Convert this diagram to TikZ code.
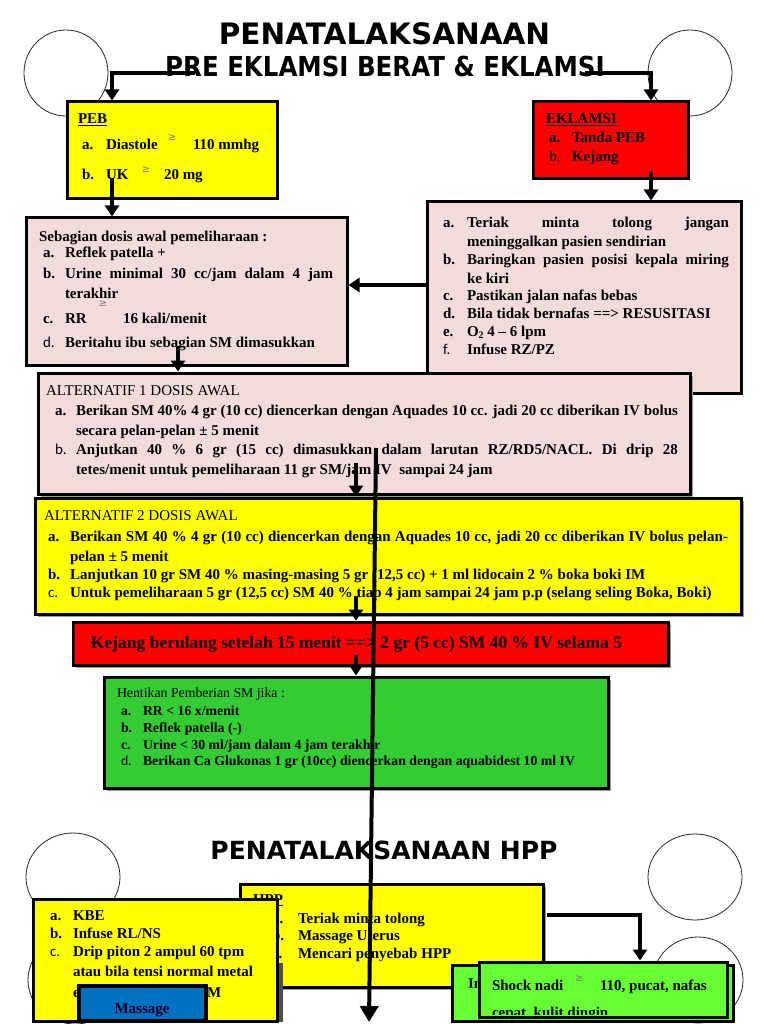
\documentclass[tikz,border=0pt]{standalone}
\usepackage{fontspec}
\setmainfont{Liberation Serif}
\newfontfamily\dvs{DejaVu Sans}
\newfontfamily\dvsc{DejaVu Sans}[FakeStretch=0.89]
\newfontfamily\lblfont{Carlito}
\usetikzlibrary{arrows.meta,fit,shapes.geometric,shadows}
\definecolor{pinkbg}{HTML}{F2DCDB}
\definecolor{ylw}{HTML}{FFFF00}
\definecolor{rd}{HTML}{FF0000}
\definecolor{grnA}{HTML}{33CC33}
\definecolor{grnB}{HTML}{66FF33}
\definecolor{blu}{HTML}{0070C0}
\newcommand\fsz[1]{\fontsize{#1}{#1}\selectfont}
\newcommand\bodyf{\fsz{15}\bfseries}
\newcommand\tline[4]{\node[tl] (#1) at (#2,#3) {#4};}
\newcommand\gsym[3]{\node[gs] (#1) at (#2,#3) {≥};}
\newcommand\sfl[1]{{\lblfont\mdseries #1}}
\tikzset{
  tl/.style={anchor=base west, inner sep=0pt, outer sep=0pt, font=\bodyf},
  gs/.style={inner sep=0pt, font=\dvs\fsz{10}, text=black!50},
  box/.style={draw=black, line width=3pt, inner sep=0pt},
  shad/.style={drop shadow={shadow xshift=3pt, shadow yshift=-3pt, fill=black!40, opacity=1}},
  arr/.style={line width=4.5pt, -{Triangle[length=11pt,width=14pt]}},
  bigarr/.style={line width=4pt, -{Triangle[length=16pt,width=18pt]}},
  circ/.style={draw=black!85, line width=0.8pt, ellipse, inner sep=0pt},
}
\begin{document}
\begin{tikzpicture}[x=1pt,y=-1pt]
\useasboundingbox (0,0) rectangle (768,1024);
\fill[white] (0,0) rectangle (768,1024);
% circles top
\node[circ, minimum width=84pt, minimum height=86pt] (c1) at (66,73) {};
\node[circ, minimum width=84pt, minimum height=86pt] (c2) at (690,73) {};
% titles
\node[anchor=base, inner sep=0pt, font=\dvs\bfseries\fsz{29.5}] (title) at (384.5,45) {PENATALAKSANAAN};
\node[anchor=base, inner sep=0pt, font=\dvsc\bfseries\fsz{27.5}] (subtitle) at (385,77) {PRE EKLAMSI BERAT \& EKLAMSI};
% PEB
\node[box, fill=ylw, fit={(67,102) (277,199)}] (peb) {};
\tline{pebT}{78}{124}{\underline{PEB}}
\tline{pebA}{82}{150}{a.}
\tline{pebA1}{106}{150}{Diastole}
\gsym{pebAg}{172}{138}
\tline{pebA2}{193}{150}{110 mmhg}
\tline{pebB}{82}{180}{b.}
\tline{pebB1}{106}{180}{UK}
\gsym{pebBg}{146}{170}
\tline{pebB2}{164}{180}{20 mg}
% EKLAMSI
\node[box, fill=rd, fit={(533,102) (688,179)}] (ekl) {};
\tline{eklT}{546}{124}{\underline{EKLAMSI}}
\tline{eklA}{549}{143}{a.}
\tline{eklA1}{572}{143}{Tanda PEB}
\tline{eklB}{549}{162}{\sfl{b.}}
\tline{eklB1}{572}{162}{Kejang}
% pink 2
\node[box, fill=pinkbg, fit={(427,202) (741,393)}] (pk2) {};
\tline{p2a}{443}{227}{a.}
\tline{p2a1}{467}{227}{\makebox[262pt][s]{Teriak minta tolong jangan}}
\tline{p2a2}{467}{247}{meninggalkan pasien sendirian}
\tline{p2b}{443}{264}{b.}
\tline{p2b1}{467}{264}{\makebox[262pt][s]{Baringkan pasien posisi kepala miring}}
\tline{p2b2}{467}{283}{ke kiri}
\tline{p2c}{443}{300}{c.}
\tline{p2c1}{467}{300}{Pastikan jalan nafas bebas}
\tline{p2d}{443}{318}{d.}
\tline{p2d1}{467}{318}{Bila tidak bernafas ==> RESUSITASI}
\tline{p2e}{443}{336}{e.}
\tline{p2e1}{467}{336}{O\raisebox{-2pt}{\fsz{10}2} 4 – 6 lpm}
\tline{p2f}{443}{354}{\sfl{f.}}
\tline{p2f1}{467}{354}{Infuse RZ/PZ}
% pink 1
\node[box, fill=pinkbg, fit={(26,218) (347,365)}] (pk1) {};
\tline{p1t}{39}{241}{Sebagian dosis awal pemeliharaan :}
\tline{p1a}{43}{258}{a.}
\tline{p1a1}{65}{258}{Reflek patella +}
\tline{p1b}{43}{278}{b.}
\tline{p1b1}{65}{278}{\makebox[268pt][s]{Urine minimal 30 cc/jam dalam 4 jam}}
\tline{p1b2}{65}{298}{terakhir}
\tline{p1c}{43}{323}{c.}
\tline{p1c1}{65}{323}{RR}
\gsym{p1cg}{103}{304}
\tline{p1c2}{123}{323}{16 kali/menit}
\tline{p1d}{43}{347}{\sfl{d.}}
\tline{p1d1}{65}{347}{Beritahu ibu sebagian SM dimasukkan}
% alternatif 1
\node[box, shad, fill=pinkbg, fit={(38,373) (690,494)}] (alt1) {};
\tline{a1t}{46}{395}{\mdseries ALTERNATIF 1 DOSIS AWAL}
\tline{a1a}{55}{415}{a.}
\tline{a1a1}{76}{415}{\makebox[602pt][s]{Berikan SM 40\% 4 gr (10 cc) diencerkan dengan Aquades 10 cc. jadi 20 cc diberikan IV bolus}}
\tline{a1a2}{76}{435}{secara pelan-pelan ± 5 menit}
\tline{a1b}{55}{454}{\sfl{b.}}
\tline{a1b1}{76}{454}{\makebox[602pt][s]{Anjutkan 40 \% 6 gr (15 cc) dimasukkan dalam larutan RZ/RD5/NACL. Di drip 28}}
\tline{a1b2}{76}{474}{tetes/menit untuk pemeliharaan 11 gr SM/jam IV\ \ sampai 24 jam}
% alternatif 2
\node[box, shad, fill=ylw, fit={(35,498) (741,614)}] (alt2) {};
\tline{a2t}{44}{520}{\mdseries ALTERNATIF 2 DOSIS AWAL}
\tline{a2a}{48}{541}{a.}
\tline{a2a1}{70}{541}{\makebox[658pt][s]{Berikan SM 40 \% 4 gr (10 cc) diencerkan dengan Aquades 10 cc, jadi 20 cc diberikan IV bolus pelan-}}
\tline{a2a2}{70}{561}{pelan ± 5 menit}
\tline{a2b}{48}{579}{b.}
\tline{a2b1}{70}{579}{Lanjutkan 10 gr SM 40 \% masing-masing 5 gr (12,5 cc) + 1 ml lidocain 2 \% boka boki IM}
\tline{a2c}{48}{597}{\sfl{c.}}
\tline{a2c1}{70}{597}{Untuk pemeliharaan 5 gr (12,5 cc) SM 40 \% tiap 4 jam sampai 24 jam p.p (selang seling Boka, Boki)}
% red
\node[box, shad, fill=rd, fit={(73,622) (668,665)}] (red) {};
\node[anchor=base, inner sep=0pt, font=\fsz{17.5}\bfseries] (redT) at (356.5,648) {Kejang berulang setelah 15 menit ==> 2 gr (5 cc) SM 40 \% IV selama 5};
% green
\node[box, shad, fill=grnA, fit={(104,677) (608,788)}] (grn) {};
\begin{scope}[tl/.style={anchor=base west, inner sep=0pt, outer sep=0pt, font=\fsz{13.8}\bfseries}]
\tline{gt}{117}{697}{\mdseries Hentikan Pemberian SM jika :}
\tline{ga}{121}{715}{a.}
\tline{ga1}{143}{715}{RR < 16 x/menit}
\tline{gb}{121}{732}{b.}
\tline{gb1}{143}{732}{Reflek patella (-)}
\tline{gc}{121}{749}{c.}
\tline{gc1}{143}{749}{Urine < 30 ml/jam dalam 4 jam terakhir}
\tline{gd}{121}{765}{\sfl{d.}}
\tline{gd1}{143}{765}{Berikan Ca Glukonas 1 gr (10cc) diencerkan dengan aquabidest 10 ml IV}
\end{scope}
% HPP title and circles
\node[anchor=base, inner sep=0pt, font=\dvs\bfseries\fsz{25}] (hppTitle) at (384,859) {PENATALAKSANAAN HPP};
\node[circ, minimum width=94pt, minimum height=88pt] (c3) at (73,877) {};
\node[circ, minimum width=94pt, minimum height=88pt] (c4) at (75,980) {};
\node[circ, minimum width=94pt, minimum height=86pt] (c5) at (695,877) {};
\node[circ, minimum width=90pt, minimum height=86pt] (c6) at (698,980) {};
% HPP box
\node[box, shad, fill=ylw, fit={(240,884) (543,987)}] (hpp) {};
\begin{scope}
\clip (245,888) rectangle (300,900);
\tline{hppT}{253}{904}{HPP}
\end{scope}
\draw[line width=0.8pt] (253,905.5) -- (283,905.5);
\tline{ha}{272}{923}{a.}
\tline{ha1}{298}{923}{Teriak minta tolong}
\tline{hb}{272}{940}{b.}
\tline{hb1}{298}{940}{Massage Uterus}
\tline{hc}{272}{958}{c.}
\tline{hc1}{298}{958}{Mencari penyebab HPP}
% left yellow box
\fill[black!70] (277,963) rectangle (283,1022);
\node[box, fill=ylw, fit={(33,899) (277,1021)}] (ly) {};
\tline{la}{50}{920}{a.}
\tline{la1}{73}{920}{KBE}
\tline{lb}{50}{938}{b.}
\tline{lb1}{73}{938}{Infuse RL/NS}
\tline{lc}{50}{956}{\sfl{c.}}
\tline{lc1}{73}{956}{Drip piton 2 ampul 60 tpm}
\tline{lc2}{73}{976}{atau bila tensi normal metal}
\tline{le1}{73}{997}{e}
\tline{le2}{207}{997}{M}
% Massage
\node[box, line width=4pt, fill=blu, fit={(79,986) (206,1021)}] (mas) {};
\node[anchor=base, inner sep=0pt, font=\bodyf, text=black!85!blue] (masT) at (142,1013) {Massage};
% green boxes bottom right
\node[box, fill=grnB, fit={(452,965) (733,1021)}] (gA) {};
\tline{gAt}{468}{988}{In}
\node[box, fill=grnB, fit={(479,962) (727,1017)}] (gB) {};
\tline{gBt}{492}{990}{Shock nadi}
\gsym{gBg}{579}{979}
\tline{gBt2}{600}{990}{110, pucat, nafas}
\begin{scope}
\clip (482,995) rectangle (724,1014);
\tline{gBt3}{492}{1017}{cepat, kulit dingin}
\end{scope}
% connectors
\coordinate (a1s) at (195,73);
\coordinate (a1c) at (112,73);
\draw[arr] (a1s) -- (a1c) -- (a1c |- peb.north);
\coordinate (a2s) at (585,73);
\coordinate (a2c) at (651,73);
\draw[arr] (a2s) -- (a2c) -- (a2c |- ekl.north);
\coordinate (a3s) at (112,178);
\draw[arr] (a3s) -- (a3s |- pk1.north);
\coordinate (a4s) at (651,172);
\draw[arr] (a4s) -- (a4s |- pk2.north);
\coordinate (a5s) at (428,285);
\draw[arr] (a5s) -- (a5s -| pk1.east);
\coordinate (a6s) at (178,346);
\draw[arr] (a6s) -- (a6s |- alt1.north);
\coordinate (a7s) at (356,463);
\draw[arr] (a7s) -- (a7s |- alt2.north);
\coordinate (a8s) at (356,596);
\draw[arr] (a8s) -- (a8s |- red.north);
\coordinate (a9s) at (356,655);
\draw[arr] (a9s) -- (a9s |- grn.north);
\coordinate (a11s) at (547,915);
\coordinate (a11c) at (640,915);
\draw[arr] (a11s) -- (a11c) -- (a11c |- gB.north);
\coordinate (a10s) at (376,448);
\coordinate (a10e) at (369,1022);
\draw[bigarr] (a10s) -- (a10e);
\end{tikzpicture}
\end{document}
